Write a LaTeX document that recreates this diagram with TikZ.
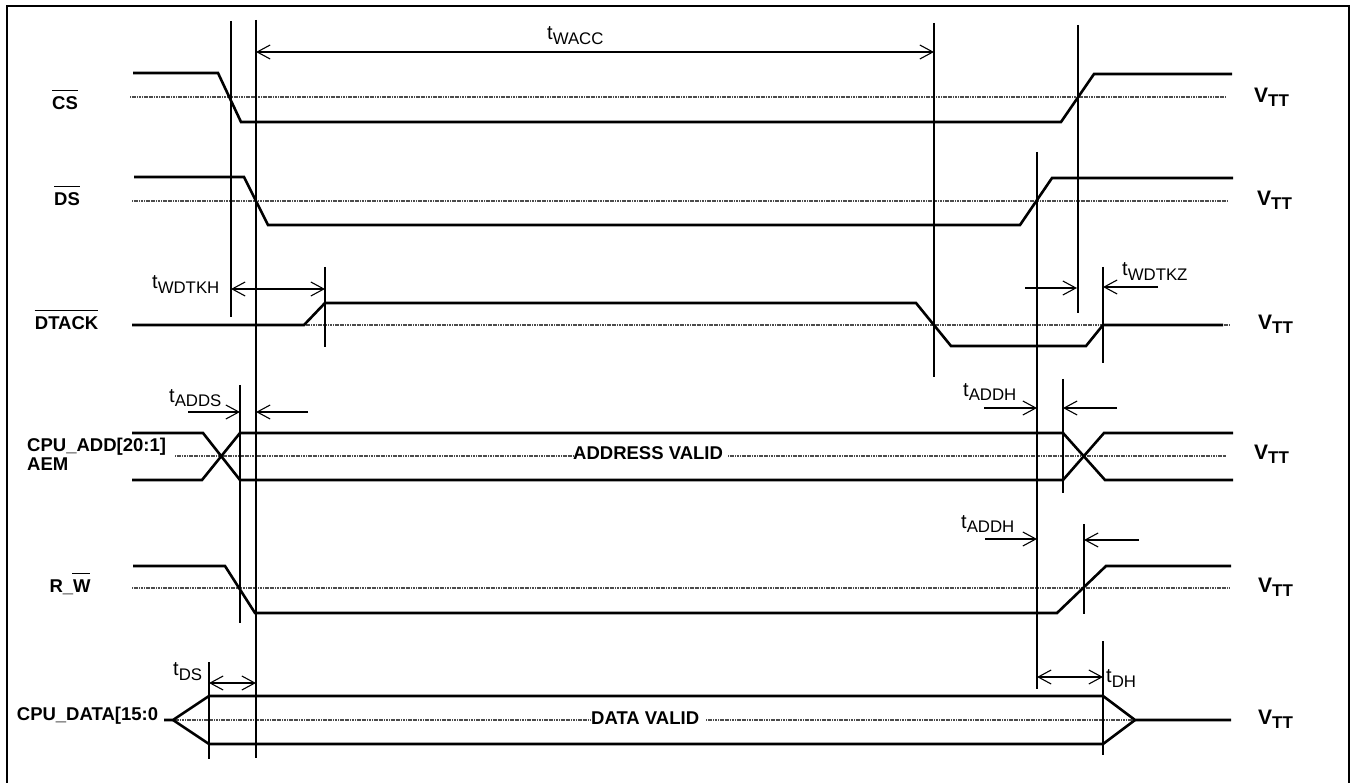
\documentclass[tikz,border=0pt]{standalone}
\usepackage{fontspec}
\setmainfont{Liberation Sans}
\usetikzlibrary{arrows.meta}
\newcommand{\tsub}[1]{{\fontsize{20}{20}\selectfont t\raisebox{-4.5pt}{\fontsize{16.8}{16.8}\selectfont #1}}}
\newcommand{\vtt}{{\fontsize{21}{21}\selectfont\bfseries V\raisebox{-4pt}{\fontsize{17}{17}\selectfont TT}}}
\tikzset{
    sig/.style={line width=2.6pt,line join=miter},
    thresh/.style={line width=1.5pt,color=black!70,dash pattern=on 1.2pt off 0.5pt},
    marker/.style={line width=1.7pt},
    dim/.style={line width=1.5pt},
    oneend/.style={dim,->},
    bothend/.style={dim,<->},
    pin/.style={anchor=base west,inner sep=0pt,font=\fontsize{18.5}{20}\selectfont\bfseries},
    tlabel/.style={anchor=base west,inner sep=0pt},
    bar/.style={line width=1.5pt},
    >={Straight Barb[length=13pt,width=14pt,line width=1.1pt]}
}
\begin{document}
\begin{tikzpicture}[x=1pt,y=-1pt]
    \useasboundingbox (0,0) rectangle (1350,783);
    \draw[line width=1.7pt] (6.7,783) -- (6.7,5.7) -- (1349,5.7) -- (1349,783);
    % thresholds
    \draw[thresh] (130,97) -- (1226,97);
    \draw[thresh] (132,201) -- (1228,201);
    \draw[thresh] (304,325) -- (1229,325);
    \draw[thresh] (175,456) -- (573,456);
    \draw[thresh] (728,456) -- (1226,456);
    \draw[thresh] (132,588) -- (1230,588);
    \draw[thresh] (173,720) -- (591,720);
    \draw[thresh] (706,720) -- (1135,720);
    % signals
    \draw[sig] (133,73) -- (218,73) -- (241,122) -- (1061,122) -- (1094,74) -- (1232,74);
    \draw[sig] (134,177) -- (244,177) -- (268,225) -- (1020,225) -- (1052,178) -- (1233,178);
    \draw[sig] (132,325) -- (304,325) -- (325,303) -- (916,303) -- (951,346) -- (1086,346) -- (1103,325) -- (1223,325);
    \draw[sig] (132,433) -- (203,433) -- (240,480) -- (1063,480) -- (1104,433) -- (1233,433);
    \draw[sig] (132,480) -- (202,480) -- (240,433) -- (1063,433) -- (1105,480) -- (1233,480);
    \draw[sig] (133,566) -- (225,566) -- (255,613) -- (1057,613) -- (1106,566) -- (1231,566);
    \draw[sig] (164,720) -- (173,720) -- (209,696) -- (1103,696) -- (1135,720) -- (1231,720);
    \draw[sig] (173,720) -- (209,744) -- (1103,744) -- (1135,720);
    % markers
    \draw[marker] (231,21) -- (231,317);
    \draw[marker] (256,20) -- (256,758);
    \draw[marker] (325,267) -- (325,347);
    \draw[marker] (934,23) -- (934,377);
    \draw[marker] (1078,25) -- (1078,313);
    \draw[marker] (1037,152) -- (1037,689);
    \draw[marker] (1103,267) -- (1103,363);
    \draw[marker] (240,385) -- (240,623);
    \draw[marker] (1063,379) -- (1063,493);
    \draw[marker] (1084,524) -- (1084,614);
    \draw[marker] (209,662) -- (209,759);
    \draw[marker] (1103,641) -- (1103,755);
    % dimensions
    \draw[bothend] (256,52) -- (934,52);
    \draw[bothend] (231,289) -- (325,289);
    \draw[oneend] (1025,288) -- (1077,288);
    \draw[oneend] (1158,287) -- (1103,287);
    \draw[oneend] (188,412) -- (240,412);
    \draw[oneend] (308,412) -- (256,412);
    \draw[oneend] (984,408) -- (1037,408);
    \draw[oneend] (1117,408) -- (1063,408);
    \draw[oneend] (985,539) -- (1037,539);
    \draw[oneend] (1139,540) -- (1084,540);
    \draw[bothend] (209,683) -- (256,683);
    \draw[bothend] (1037,677) -- (1103,677);
    % timing names
    \node[tlabel] (wacc) at (547,40) {\tsub{WACC}};
    \node[tlabel] (wdtkh) at (152,289) {\tsub{WDTKH}};
    \node[tlabel] (wdtkz) at (1122,276) {\tsub{WDTKZ}};
    \node[tlabel] (adds) at (169,402.5) {\tsub{ADDS}};
    \node[tlabel] (addha) at (963,396.5) {\tsub{ADDH}};
    \node[tlabel] (addhb) at (961,528.5) {\tsub{ADDH}};
    \node[tlabel] (ds) at (173,675.5) {\tsub{DS}};
    \node[tlabel] (dh) at (1106,682.5) {\tsub{DH}};
    % pin names
    \node[pin] (csn) at (52,110) {CS};
    \node[pin] (dsn) at (54,206) {DS};
    \node[pin] (dtackn) at (34.7,330) {DTACK};
    \node[pin] (addn) at (27,451.7) {CPU\_ADD[20:1]};
    \node[pin] (aemn) at (27,471) {AEM};
    \node[pin] (rwn) at (49.3,592.7) {R\_W};
    \node[pin] (datan) at (16.7,720.7) {CPU\_DATA[15:0};
    \node[pin] (addrvalid) at (573,460) {ADDRESS VALID};
    \node[pin] (datavalid) at (591,724) {DATA VALID};
    \draw[bar] (52,90.3) -- (78,90.3);
    \draw[bar] (54,186.7) -- (80,186.7);
    \draw[bar] (34.7,310.7) -- (98,310.7);
    \draw[bar] (72,573.7) -- (90,573.7);
    % levels
    \node[tlabel] (vcs) at (1254,102.7) {\vtt};
    \node[tlabel] (vds) at (1257,205.7) {\vtt};
    \node[tlabel] (vdtack) at (1258,330) {\vtt};
    \node[tlabel] (vadd) at (1254,460) {\vtt};
    \node[tlabel] (vrw) at (1258,592) {\vtt};
    \node[tlabel] (vdata) at (1258,724) {\vtt};
\end{tikzpicture}
\end{document}
